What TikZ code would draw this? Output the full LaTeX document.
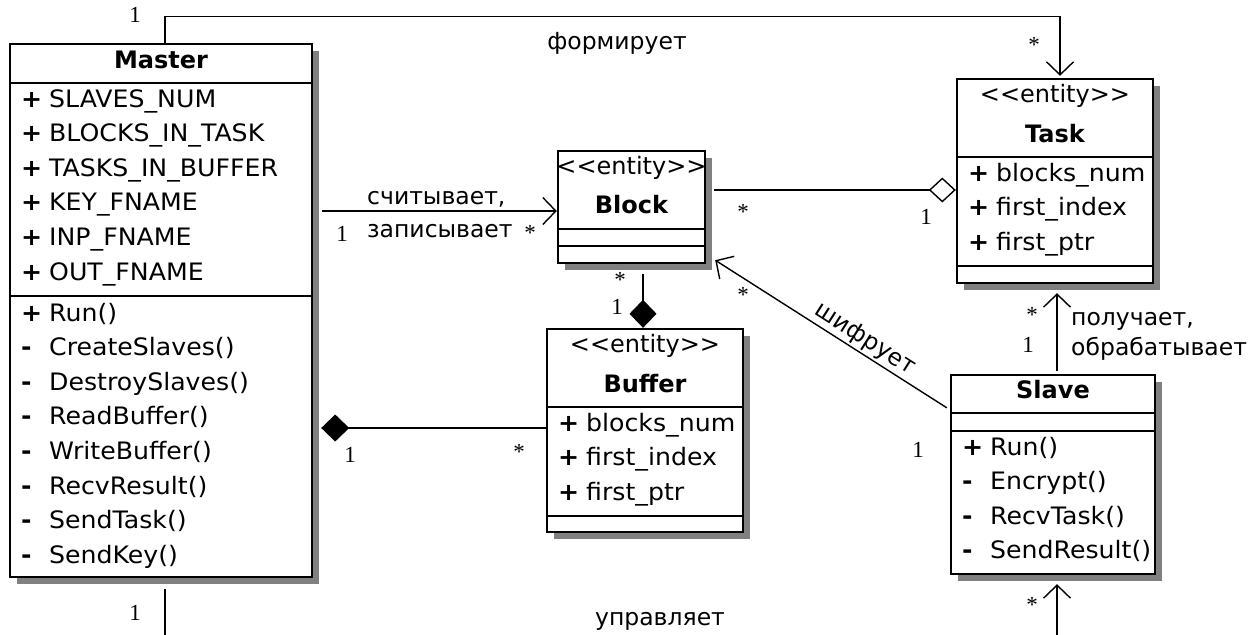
\documentclass[tikz,border=0pt]{standalone}
\usepackage{fontspec}
\setmainfont{DejaVu Sans}[Ligatures=TeXOff]
\newfontfamily\rowfont{DejaVu Sans}[Ligatures=TeXOff, FakeStretch=1.05]
\newfontfamily\multfont{Liberation Serif}
\usetikzlibrary{arrows.meta,shadows}

\tikzset{
  classbox/.style={draw, line width=2.4pt, fill=white, inner sep=0pt,
    drop shadow={shadow xshift=7pt, shadow yshift=-7pt, fill=black!50, opacity=1}},
  sepline/.style={line width=2.4pt},
  umlfont/.style={font=\fontsize{24}{28}\selectfont, inner sep=1pt},
  umlname/.style={font=\fontsize{24}{28}\selectfont\bfseries, inner sep=1pt, anchor=base},
  umlstereo/.style={umlfont, anchor=base},
  umlrow/.style={font=\fontsize{24}{28}\selectfont\rowfont, inner sep=1pt, anchor=base west},
  multlabel/.style={font=\fontsize{23}{26}\selectfont\multfont, inner sep=0pt},
  rellabel/.style={font=\fontsize{23.5}{28}\selectfont, inner sep=1pt, anchor=base},
  slopedlabel/.style={font=\fontsize{23.5}{28}\selectfont, inner sep=2pt},
  assoc/.style={line width=1.4pt},
  openhead/.style={-{Straight Barb[length=13pt, width=27pt]}},
  openstart/.style={{Straight Barb[length=13pt, width=27pt]}-},
  filldiamond/.style={-{Diamond[length=28pt, width=27pt]}},
  opendiamond/.style={-{Diamond[open, length=27pt, width=25pt]}},
}
\newcommand\vis[1]{\makebox[28pt][l]{\bfseries #1}}

\begin{document}
\begin{tikzpicture}[x=1pt,y=-1pt]
\useasboundingbox (0,0) rectangle (1257,634);
\clip (0,0) rectangle (1257,634);

% ---------- classes ----------
% Master
\node[classbox, minimum width=302pt, minimum height=533pt] (master) at (161,310.5) {};
\draw[sepline] (master.west |- 0,83) -- (master.east |- 0,83);
\draw[sepline] (master.west |- 0,296) -- (master.east |- 0,296);
\node[umlname] (master-name) at (161,68) {Master};
\foreach \t [count=\i] in {SLAVES\_NUM, BLOCKS\_IN\_TASK, TASKS\_IN\_BUFFER, KEY\_FNAME, INP\_FNAME, OUT\_FNAME}
  \node[umlrow] (master-a\i) at (20,{107+34.6*(\i-1)}) {\vis{+}\t};
\foreach \m/\t [count=\i] in {+/Run(), -/CreateSlaves(), -/DestroySlaves(), -/ReadBuffer(), -/WriteBuffer(), -/RecvResult(), -/SendTask(), -/SendKey()}
  \node[umlrow] (master-o\i) at (20,{321+34.6*(\i-1)}) {\vis{\m}\t};

% Block
\node[classbox, minimum width=147pt, minimum height=112pt] (block) at (631.5,207) {};
\draw[sepline] (block.west |- 0,229) -- (block.east |- 0,229);
\draw[sepline] (block.west |- 0,246) -- (block.east |- 0,246);
\node[umlstereo] (block-st) at (631.5,174) {<<entity>>};
\node[umlname] (block-name) at (631.5,213) {Block};

% Task
\node[classbox, minimum width=196pt, minimum height=204pt] (task) at (1055,181) {};
\draw[sepline] (task.west |- 0,157) -- (task.east |- 0,157);
\draw[sepline] (task.west |- 0,266) -- (task.east |- 0,266);
\node[umlstereo] (task-st) at (1055,102) {<<entity>>};
\node[umlname] (task-name) at (1055,142) {Task};
\foreach \t [count=\i] in {blocks\_num, first\_index, first\_ptr}
  \node[umlrow] (task-a\i) at (967,{181+34.5*(\i-1)}) {\vis{+}\t};

% Buffer
\node[classbox, minimum width=196pt, minimum height=203pt] (buffer) at (645,430.5) {};
\draw[sepline] (buffer.west |- 0,407) -- (buffer.east |- 0,407);
\draw[sepline] (buffer.west |- 0,516) -- (buffer.east |- 0,516);
\node[umlstereo] (buffer-st) at (645,352) {<<entity>>};
\node[umlname] (buffer-name) at (645,392) {Buffer};
\foreach \t [count=\i] in {blocks\_num, first\_index, first\_ptr}
  \node[umlrow] (buffer-a\i) at (557,{431+34.5*(\i-1)}) {\vis{+}\t};

% Slave
\node[classbox, minimum width=204pt, minimum height=199pt] (slave) at (1053,474.5) {};
\draw[sepline] (slave.west |- 0,413) -- (slave.east |- 0,413);
\draw[sepline] (slave.west |- 0,431) -- (slave.east |- 0,431);
\node[umlname] (slave-name) at (1053,398) {Slave};
\foreach \m/\t [count=\i] in {+/Run(), -/Encrypt(), -/RecvTask(), -/SendResult()}
  \node[umlrow] (slave-o\i) at (961,{455+34.5*(\i-1)}) {\vis{\m}\t};

% ---------- relations ----------
% Master forms Task
\draw[assoc, openhead] ([xshift=4pt]master.north) -- ++(0,-26) -| ([xshift=5pt,yshift=2pt]task.north);
\node[rellabel] (forms) at (617,50) {формирует};
\node[multlabel] (forms-m1) at (135,15) {1};
\node[multlabel] (forms-m2) at (1034,45) {*};

% Master reads and writes Block
\coordinate (bw) at ([yshift=-4pt]block.west);
\draw[assoc, openhead, shorten <=9pt] (bw -| master.east) -- (bw);
\node[rellabel, anchor=base west] (rw1) at (366,204) {считывает,};
\node[rellabel, anchor=base west] (rw2) at (366,237) {записывает};
\node[multlabel] (rw-m1) at (342,234) {1};
\node[multlabel] (rw-m2) at (530,233) {*};

% Block is aggregated by Task
\coordinate (tw) at ([yshift=-9pt]task.west);
\draw[assoc, opendiamond, shorten <=8pt] (tw -| block.east) -- (tw);
\node[multlabel] (agg-m1) at (743,212) {*};
\node[multlabel] (agg-m2) at (926,217) {1};

% Block is part of Buffer
\coordinate (bn) at ([xshift=-2pt]buffer.north);
\draw[assoc, filldiamond, shorten <=10pt] (bn |- block.south) -- (bn);
\node[multlabel] (cb-m1) at (620,280) {*};
\node[multlabel] (cb-m2) at (617,307) {1};

% Buffer is part of Master
\coordinate (bfw) at ([yshift=2.5pt]buffer.west);
\draw[assoc, filldiamond, shorten >=8pt] (bfw) -- (bfw -| master.east);
\node[multlabel] (cm-m1) at (350,455) {1};
\node[multlabel] (cm-m2) at (519,452) {*};

% Slave encrypts Block
\draw[assoc, openstart] ([xshift=9pt,yshift=4pt]block.south east)
  -- node[slopedlabel, sloped, above, pos=0.615] (enc) {шифрует}
  ([xshift=-3pt,yshift=-34pt]slave.north west);
\node[multlabel] (enc-m1) at (743,295) {*};
\node[multlabel] (enc-m2) at (918,450) {1};

% Slave gets and processes Task
\coordinate (sn) at ([xshift=4pt,yshift=3pt]slave.north);
\draw[assoc, openhead, shorten >=9pt] (sn) -- (sn |- task.south);
\node[rellabel, anchor=base west] (gp1) at (1070,325) {получает,};
\node[rellabel, anchor=base west] (gp2) at (1070,355) {обрабатывает};
\node[multlabel] (gp-m1) at (1032,315) {*};
\node[multlabel] (gp-m2) at (1028,345) {1};

% Master controls Slave
\draw[assoc, openhead] ([xshift=4pt,yshift=-11pt]master.south) -- ++(0,70) -| ([xshift=4pt,yshift=-9pt]slave.south);
\node[rellabel] (ctrl) at (660,625) {управляет};
\node[multlabel] (ctrl-m1) at (135,613) {1};
\node[multlabel] (ctrl-m2) at (1032,605) {*};
\end{tikzpicture}
\end{document}
